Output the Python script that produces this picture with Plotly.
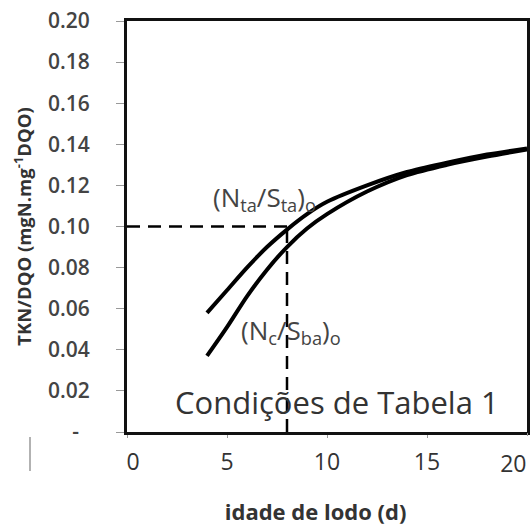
import plotly.graph_objects as go

# Sludge age (d) and TKN/COD ratio curves
idade = [4, 5, 6, 7, 8, 9, 10, 12, 14, 16, 18, 20]
nta_sta = [0.058, 0.069, 0.080, 0.090, 0.0985, 0.106, 0.112, 0.120, 0.1265, 0.131, 0.135, 0.138]
nc_sba = [0.037, 0.051, 0.066, 0.079, 0.090, 0.099, 0.106, 0.117, 0.125, 0.130, 0.134, 0.1375]

# Reference reading at sludge age 8 d
ref_idade = 8
ref_ratio = 0.10

y_ticks = [0, 0.02, 0.04, 0.06, 0.08, 0.10, 0.12, 0.14, 0.16, 0.18, 0.20]
y_ticktext = ["-\u00a0\u00a0"] + [f"{v:.2f}" for v in y_ticks[1:]]
x_ticks = [0, 5, 10, 15]
x_ticktext = ["\u00a0\u00a00", "5", "10", "15"]
x_last_tick = [20]
x_last_text = ["20"]

FONT = "Open Sans"
fig = go.Figure()

line_style = dict(color="black", width=4, shape="spline", smoothing=0.8)
fig.add_trace(go.Scatter(x=idade, y=nta_sta, mode="lines", line=line_style,
                         showlegend=False, hoverinfo="skip"))
# second curve lives on the overlaid x axis (identical range) so that axis is drawn
fig.add_trace(go.Scatter(x=idade, y=nc_sba, mode="lines", line=line_style,
                         xaxis="x2", showlegend=False, hoverinfo="skip"))

dash_style = dict(color="black", width=2.5, dash="13px,8px")
fig.add_trace(go.Scatter(x=[0, ref_idade], y=[ref_ratio, ref_ratio], mode="lines",
                         line=dash_style, showlegend=False, hoverinfo="skip"))
fig.add_trace(go.Scatter(x=[ref_idade, ref_idade], y=[0, ref_ratio], mode="lines",
                         line=dash_style, showlegend=False, hoverinfo="skip"))

txt = dict(family=FONT, size=26, color="#444444")
fig.add_annotation(x=6.85, y=0.114, text="(N<sub>ta</sub>/S<sub>ta</sub>)<sub>o</sub>",
                   showarrow=False, font=txt)
fig.add_annotation(x=8.2, y=0.049, text="(N<sub>c</sub>/S<sub>ba</sub>)<sub>o</sub>",
                   showarrow=False, font=txt)
fig.add_annotation(x=10.5, y=0.0146, text="Condições de Tabela 1",
                   showarrow=False, font=dict(family=FONT, size=31, color="#333333"))

# small separator mark left of the x axis labels
fig.add_shape(type="line", xref="paper", yref="paper",
              x0=-0.2425, x1=-0.2425, y0=-0.012, y1=-0.095,
              line=dict(color="#999999", width=1.5))

xtickfont = dict(family=FONT, size=23, color="#333333")
fig.update_layout(
    xaxis=dict(range=[0, 20], tickvals=x_ticks, ticktext=x_ticktext,
               ticks="outside", ticklen=3, tickcolor="#999999", tickfont=xtickfont,
               showline=True, linecolor="#111111", linewidth=3, mirror=True,
               showgrid=False, zeroline=False, ticklabelstandoff=4, automargin=False,
               title=dict(text="<b>idade de lodo (d)" + "\u00a0" * 4 + "</b>", standoff=30,
                          font=dict(family=FONT, size=22, color="#333333"))),
    # last x label sits flush with the right border
    xaxis2=dict(range=[0, 20], overlaying="x", side="bottom", anchor="y",
                tickvals=x_last_tick, ticktext=x_last_text,
                ticks="outside", ticklen=3, tickcolor="#999999", tickfont=xtickfont,
                ticklabelposition="outside left", ticklabelstandoff=11,
                ticklabeloverflow="allow",
                showline=False, showgrid=False, zeroline=False, automargin=False),
    yaxis=dict(range=[0, 0.20], tickvals=y_ticks, ticktext=y_ticktext,
               ticks="outside", ticklen=8, tickcolor="#999999",
               tickfont=dict(family=FONT, size=21, weight=600, color="#444444"),
               showline=True, linecolor="#111111", linewidth=3, mirror=True,
               showgrid=False, zeroline=False, ticklabelstandoff=22, automargin=False,
               title=dict(text="<b>TKN/DQO (mgN.mg<sup>-1</sup>DQO)</b>", standoff=12,
                          font=dict(family=FONT, size=18.5, color="#333333"))),
    width=531, height=526, margin=dict(l=127, r=4, t=21, b=94),
    plot_bgcolor="white", paper_bgcolor="white",
)

fig.write_html("out.html")
